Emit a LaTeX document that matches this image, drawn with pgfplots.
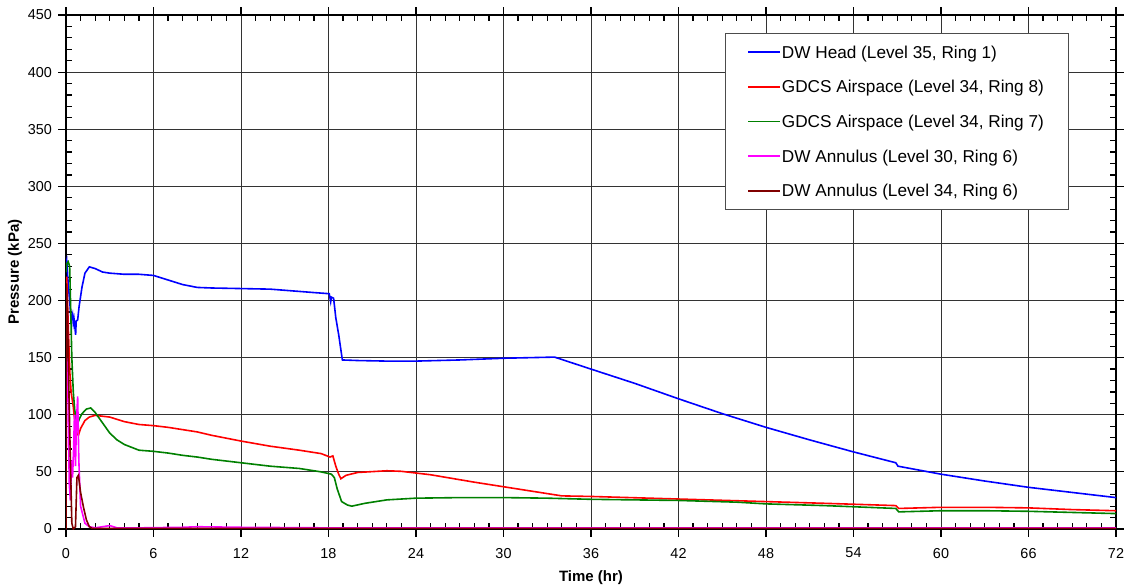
\documentclass[border=0pt]{standalone}
\usepackage{fontspec}
\setmainfont{Liberation Sans}
\usepackage{pgfplots}
\pgfplotsset{compat=1.18}
\definecolor{lnblue}{RGB}{0,0,255}
\definecolor{lnred}{RGB}{255,0,0}
\definecolor{lngreen}{RGB}{0,128,0}
\definecolor{lnmag}{RGB}{255,0,255}
\definecolor{lndred}{RGB}{128,0,0}
\begin{document}
\begin{tikzpicture}
\useasboundingbox (-33pt,-28pt) rectangle (531pt,264.5pt);
\begin{axis}[
  at={(0,0)}, anchor=south west,
  scale only axis, width=525pt, height=257pt,
  xmin=0, xmax=72, ymin=0, ymax=450,
  xtick={0,6,...,72}, ytick={0,50,...,450},
  minor x tick num=5, minor y tick num=4,
  grid=major, major grid style={black!80, line width=0.5pt},
  axis line style={line width=1.2pt},
  tick align=inside, major tick length=-4pt, minor tick length=3pt,
  tick style={black, line width=0.6pt},
  ticklabel style={font=\fontsize{7.2}{9}\selectfont},
  xticklabel style={yshift=-6pt},
  yticklabel style={xshift=-3.5pt},
  /pgf/number format/assume math mode=true,
  xlabel={\textbf{Time (hr)}}, ylabel={\textbf{Pressure (kPa)}},
  label style={font=\fontsize{7.5}{9}\selectfont},
  xlabel style={at={(axis description cs:0.5,-0.0953)}, anchor=center},
  ylabel style={at={(axis description cs:-0.0486,0.5)}, anchor=center},
  legend cell align=left,
  legend style={at={(0.955,0.965)}, anchor=north east, draw=black!70, line width=0.5pt, fill=white,
    font=\fontsize{8.6}{10}\selectfont, row sep=7.33pt, inner xsep=11.2pt, inner ysep=4.35pt,
    nodes={inner sep=1pt, text height=7pt, text depth=1pt}},
  legend image code/.code={\fill[#1,draw=none] (0pt,-0.4pt) rectangle (16pt,0.4pt);},
]
\addplot[color=lnblue, line width=0.8pt, mark=none] coordinates {
(0,232)(0.05,235)(0.15,215)(0.25,200)(0.35,183)(0.45,188)(0.5,180)(0.55,184)(0.6,178)(0.66,170)(0.7,182)(0.8,183)(0.9,195)(1.1,212)(1.3,224)(1.6,229.5)(2.0,228)(2.5,225)(3,224)(4,223)(5,223)(6,222)(7,218)(8,214)(9,211.5)(10,211)(12,210.5)(14,210)(16,208)(17,207)(18.05,206)(18.15,199)(18.2,203)(18.35,202)(18.5,185)(18.7,170)(18.95,148)(20,147.5)(22,147)(24,147)(27,148)(30,149.5)(33.5,150.5)(36,140)(39,127.5)(42,114)(45,101)(48,89)(51,78)(54,67.5)(56.9,58)(57.05,55)(60,48)(63,42)(66,36.5)(69,32)(72,27.5)
};
\addlegendentry{DW Head (Level 35, Ring 1)}
\addplot[color=lnred, line width=0.8pt, mark=none] coordinates {
(0,210)(0.05,221)(0.15,180)(0.25,140)(0.35,120)(0.5,107)(0.6,95)(0.75,84)(0.85,82)(1.0,88)(1.3,95)(1.6,98)(2,99.5)(3,98)(4,94)(5,91.5)(6,90.5)(7,89)(8,87)(9,85)(10,82)(12,77)(14,72.5)(16,69)(17.5,66)(18.1,63)(18.3,64)(18.5,55)(18.7,48)(18.85,44)(19.2,47)(20,49.5)(22,51)(23,50.5)(25,47.5)(28,41)(31,35)(34,29)(36,28.5)(40,27)(44,25.5)(48,24)(52,22.5)(56.9,20.5)(57.1,18)(60,19)(63,19)(66,18.5)(69,17)(72,16)
};
\addlegendentry{GDCS Airspace (Level 34, Ring 8)}
\addplot[color=lngreen, line width=0.8pt, mark=none] coordinates {
(0,225)(0.05,232)(0.15,234)(0.25,230)(0.3,205)(0.4,150)(0.5,120)(0.6,104)(0.7,96)(0.8,92)(0.9,96)(1.1,101)(1.4,105)(1.7,106)(2,102)(2.5,93)(3,84)(3.5,78)(4,74)(5,69)(6,68)(7,66.5)(8,64.5)(9,63)(10,61)(12,58)(14,55)(16,53)(17.5,50)(18.2,48)(18.4,45)(18.6,35)(18.9,24)(19.3,21)(19.6,20)(20.5,22.5)(22,25.5)(24,27)(27,27.5)(30,27.5)(33,27)(36,26)(42,25)(46,23.5)(48,22)(52,20.5)(56.9,18)(57.1,15)(60,16)(63,16)(66,15.5)(69,14.5)(72,13.5)
};
\addlegendentry{GDCS Airspace (Level 34, Ring 7)}
\addplot[color=lnmag, line width=0.8pt, mark=none] coordinates {
(0,0)(0.03,150)(0.08,190)(0.15,120)(0.22,40)(0.3,25)(0.38,60)(0.45,45)(0.52,70)(0.58,100)(0.65,55)(0.72,95)(0.8,116)(0.88,60)(1.0,20)(1.3,5)(1.6,2)(2,1)(2.5,2)(3,3)(3.5,1)(5,1)(8,1.5)(9,2)(12,1.5)(18,1)(72,1)
};
\addlegendentry{DW Annulus (Level 30, Ring 6)}
\addplot[color=lndred, line width=0.8pt, mark=none] coordinates {
(0,0)(0.02,215)(0.1,190)(0.2,120)(0.3,60)(0.4,5)(0.5,0)(0.65,2)(0.75,45)(0.85,47)(1.0,32)(1.2,19)(1.4,8)(1.6,2)(1.8,0.5)(72,0.5)
};
\addlegendentry{DW Annulus (Level 34, Ring 6)}
\end{axis}
\end{tikzpicture}
\end{document}
